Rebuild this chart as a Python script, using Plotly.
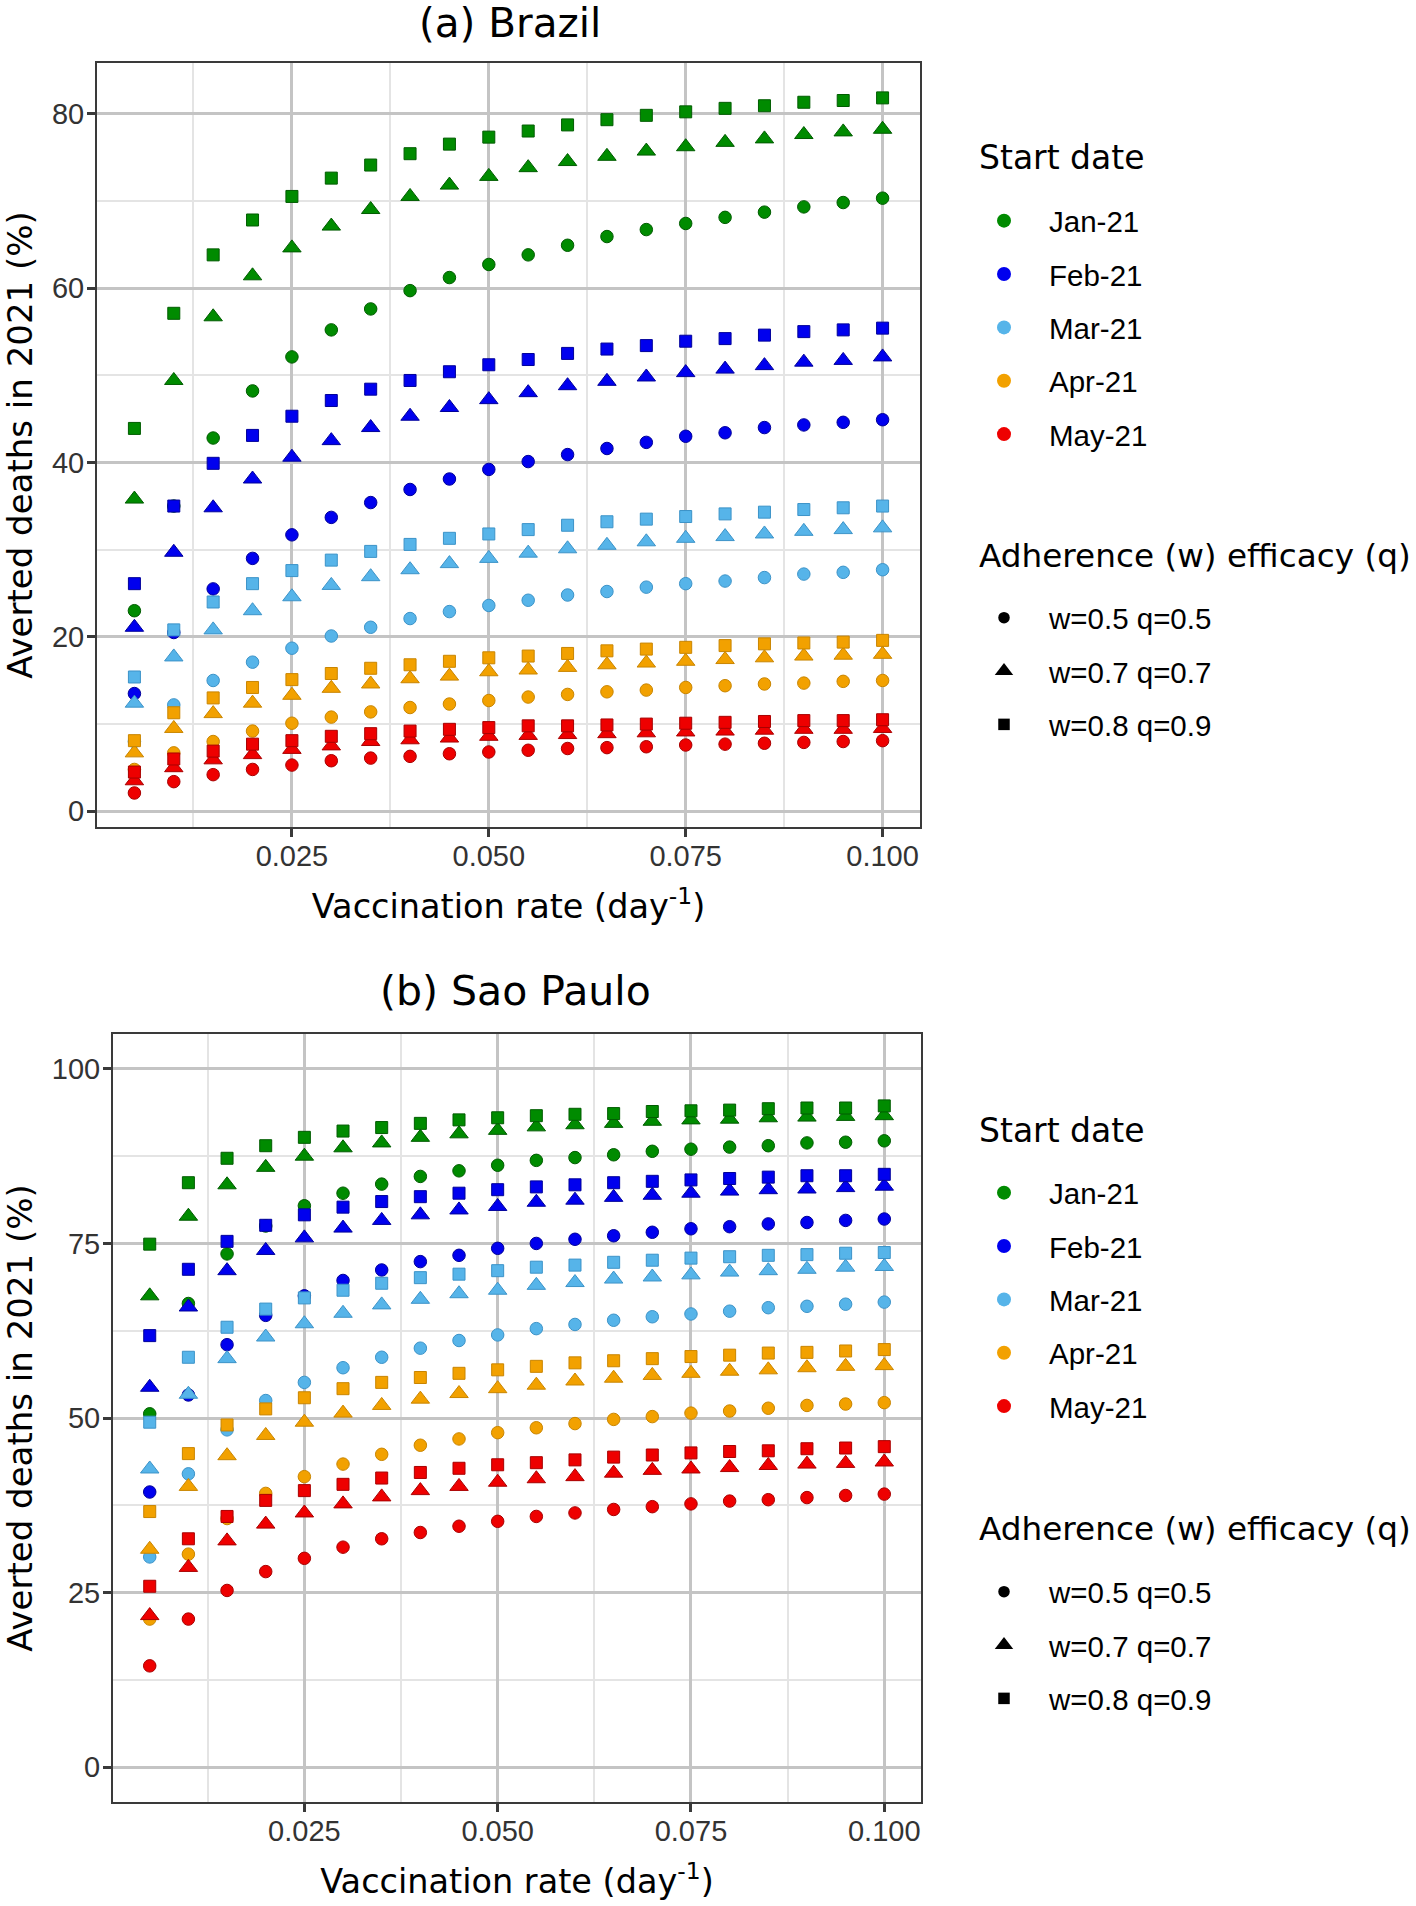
import plotly.graph_objects as go

# ---------------- data ----------------
RATE = [0.005, 0.010, 0.015, 0.020, 0.025, 0.030, 0.035, 0.040, 0.045, 0.050,
        0.055, 0.060, 0.065, 0.070, 0.075, 0.080, 0.085, 0.090, 0.095, 0.100]

DATES = ["Jan-21", "Feb-21", "Mar-21", "Apr-21", "May-21"]
SCENARIOS = ["w=0.5 q=0.5", "w=0.7 q=0.7", "w=0.8 q=0.9"]

X_TICKS = [0.025, 0.050, 0.075, 0.100]
X_TICK_TEXT = ["0.025", "0.050", "0.075", "0.100"]
X_MINOR = [0.0125, 0.0375, 0.0625, 0.0875]
BR_Y_TICKS = [0, 20, 40, 60, 80]
BR_Y_MINOR = [10, 30, 50, 70]
SP_Y_TICKS = [0, 25, 50, 75, 100]
SP_Y_MINOR = [12.5, 37.5, 62.5, 87.5]

# (a) Brazil  -- circle: w=0.5 q=0.5, triangle: w=0.7 q=0.7, square: w=0.8 q=0.9
BR_JAN_C = [23.0, 35.0, 42.8, 48.2, 52.1, 55.2, 57.6, 59.7, 61.2, 62.7, 63.8, 64.9, 65.9, 66.7, 67.4, 68.1, 68.7, 69.3, 69.8, 70.3]
BR_JAN_T = [35.8, 49.4, 56.7, 61.4, 64.6, 67.1, 69.0, 70.5, 71.8, 72.8, 73.8, 74.5, 75.1, 75.7, 76.2, 76.7, 77.1, 77.6, 77.9, 78.2]
BR_JAN_S = [43.9, 57.1, 63.8, 67.8, 70.5, 72.6, 74.1, 75.4, 76.5, 77.3, 78.0, 78.7, 79.3, 79.8, 80.2, 80.6, 80.9, 81.3, 81.5, 81.8]
BR_FEB_C = [13.5, 20.5, 25.5, 29.0, 31.7, 33.7, 35.4, 36.9, 38.1, 39.2, 40.1, 40.9, 41.6, 42.3, 43.0, 43.4, 44.0, 44.3, 44.6, 44.9]
BR_FEB_T = [21.1, 29.7, 34.8, 38.1, 40.6, 42.5, 44.0, 45.3, 46.3, 47.2, 48.0, 48.8, 49.3, 49.8, 50.3, 50.7, 51.1, 51.5, 51.7, 52.1]
BR_FEB_S = [26.1, 35.0, 39.9, 43.1, 45.3, 47.1, 48.4, 49.4, 50.4, 51.2, 51.8, 52.5, 53.0, 53.4, 53.9, 54.2, 54.6, 55.0, 55.2, 55.4]
BR_MAR_C = [8.0, 12.2, 15.0, 17.1, 18.7, 20.1, 21.1, 22.1, 22.9, 23.6, 24.2, 24.8, 25.2, 25.7, 26.1, 26.4, 26.8, 27.2, 27.4, 27.7]
BR_MAR_T = [12.4, 17.7, 20.8, 23.0, 24.6, 25.9, 26.9, 27.7, 28.4, 29.0, 29.6, 30.1, 30.5, 30.9, 31.3, 31.5, 31.8, 32.1, 32.3, 32.5]
BR_MAR_S = [15.4, 20.8, 24.0, 26.1, 27.6, 28.8, 29.8, 30.6, 31.3, 31.8, 32.3, 32.8, 33.2, 33.5, 33.8, 34.1, 34.3, 34.6, 34.8, 35.0]
BR_APR_C = [4.8, 6.7, 8.0, 9.2, 10.1, 10.8, 11.4, 11.9, 12.3, 12.7, 13.1, 13.4, 13.7, 13.9, 14.2, 14.4, 14.6, 14.7, 14.9, 15.0]
BR_APR_T = [6.7, 9.5, 11.2, 12.4, 13.3, 14.1, 14.6, 15.2, 15.5, 16.0, 16.2, 16.5, 16.8, 17.0, 17.2, 17.4, 17.6, 17.8, 17.9, 18.0]
BR_APR_S = [8.1, 11.3, 13.0, 14.2, 15.1, 15.8, 16.4, 16.8, 17.2, 17.6, 17.8, 18.1, 18.4, 18.6, 18.8, 19.0, 19.2, 19.3, 19.4, 19.6]
BR_MAY_C = [2.1, 3.4, 4.2, 4.8, 5.3, 5.8, 6.1, 6.3, 6.6, 6.8, 7.0, 7.2, 7.3, 7.4, 7.6, 7.7, 7.8, 7.9, 8.0, 8.1]
BR_MAY_T = [3.5, 5.0, 5.9, 6.5, 7.1, 7.5, 8.0, 8.2, 8.4, 8.6, 8.7, 8.8, 8.9, 9.0, 9.1, 9.2, 9.3, 9.4, 9.4, 9.5]
BR_MAY_S = [4.5, 6.0, 6.9, 7.7, 8.1, 8.6, 8.9, 9.2, 9.4, 9.6, 9.8, 9.8, 9.9, 10.0, 10.1, 10.2, 10.3, 10.4, 10.4, 10.5]

# (b) Sao Paulo
SP_JAN_C = [50.6, 66.4, 73.5, 77.5, 80.4, 82.2, 83.5, 84.6, 85.4, 86.2, 86.9, 87.3, 87.7, 88.2, 88.5, 88.8, 89.0, 89.4, 89.5, 89.7]
SP_JAN_T = [67.5, 78.9, 83.4, 85.9, 87.5, 88.7, 89.4, 90.2, 90.7, 91.2, 91.7, 92.0, 92.2, 92.5, 92.7, 92.8, 93.0, 93.1, 93.2, 93.3]
SP_JAN_S = [74.9, 83.7, 87.2, 89.0, 90.2, 91.1, 91.6, 92.2, 92.7, 93.0, 93.3, 93.5, 93.6, 93.9, 94.0, 94.1, 94.3, 94.4, 94.4, 94.7]
SP_FEB_C = [39.4, 53.3, 60.5, 64.7, 67.5, 69.7, 71.2, 72.4, 73.3, 74.3, 75.0, 75.6, 76.1, 76.6, 77.1, 77.4, 77.8, 78.0, 78.3, 78.5]
SP_FEB_T = [54.4, 65.9, 71.1, 74.0, 75.8, 77.2, 78.3, 79.1, 79.8, 80.3, 80.9, 81.2, 81.6, 81.9, 82.2, 82.5, 82.7, 82.8, 83.0, 83.2]
SP_FEB_S = [61.8, 71.3, 75.3, 77.6, 79.1, 80.2, 81.0, 81.7, 82.2, 82.7, 83.1, 83.4, 83.7, 83.9, 84.1, 84.3, 84.5, 84.7, 84.7, 84.9]
SP_MAR_C = [30.1, 42.0, 48.3, 52.5, 55.1, 57.2, 58.7, 60.0, 61.1, 61.9, 62.8, 63.4, 64.0, 64.5, 64.9, 65.3, 65.8, 66.0, 66.3, 66.6]
SP_MAR_T = [42.7, 53.4, 58.5, 61.6, 63.5, 65.0, 66.2, 67.0, 67.8, 68.3, 69.0, 69.4, 69.9, 70.2, 70.5, 70.9, 71.1, 71.3, 71.6, 71.7]
SP_MAR_S = [49.4, 58.7, 63.0, 65.6, 67.2, 68.3, 69.3, 70.1, 70.6, 71.1, 71.6, 71.9, 72.3, 72.6, 72.9, 73.1, 73.3, 73.4, 73.6, 73.7]
SP_APR_C = [21.2, 30.5, 35.6, 39.2, 41.6, 43.4, 44.8, 46.1, 47.0, 47.9, 48.6, 49.2, 49.8, 50.2, 50.7, 51.0, 51.4, 51.8, 52.0, 52.2]
SP_APR_T = [31.2, 40.2, 44.6, 47.5, 49.4, 50.7, 51.8, 52.7, 53.5, 54.2, 54.7, 55.3, 55.7, 56.1, 56.4, 56.7, 56.9, 57.2, 57.4, 57.5]
SP_APR_S = [36.6, 44.9, 49.0, 51.3, 52.9, 54.2, 55.1, 55.8, 56.4, 56.9, 57.4, 57.9, 58.2, 58.5, 58.8, 59.0, 59.3, 59.4, 59.6, 59.8]
SP_MAY_C = [14.5, 21.2, 25.3, 28.0, 29.9, 31.5, 32.7, 33.6, 34.5, 35.2, 35.9, 36.4, 36.9, 37.3, 37.7, 38.1, 38.3, 38.6, 38.9, 39.1]
SP_MAY_T = [21.7, 28.6, 32.4, 34.8, 36.4, 37.7, 38.7, 39.6, 40.2, 40.8, 41.3, 41.6, 42.1, 42.5, 42.7, 42.9, 43.2, 43.4, 43.5, 43.7]
SP_MAY_S = [25.9, 32.7, 35.9, 38.2, 39.6, 40.5, 41.4, 42.2, 42.8, 43.3, 43.6, 44.0, 44.4, 44.7, 45.0, 45.2, 45.3, 45.6, 45.7, 45.9]

BRAZIL = [[BR_JAN_C, BR_JAN_T, BR_JAN_S], [BR_FEB_C, BR_FEB_T, BR_FEB_S],
          [BR_MAR_C, BR_MAR_T, BR_MAR_S], [BR_APR_C, BR_APR_T, BR_APR_S],
          [BR_MAY_C, BR_MAY_T, BR_MAY_S]]
SAO_PAULO = [[SP_JAN_C, SP_JAN_T, SP_JAN_S], [SP_FEB_C, SP_FEB_T, SP_FEB_S],
             [SP_MAR_C, SP_MAR_T, SP_MAR_S], [SP_APR_C, SP_APR_T, SP_APR_S],
             [SP_MAY_C, SP_MAY_T, SP_MAY_S]]

# ---------------- style ----------------
W, H = 1416, 1906
FILL = ["#008B00", "#0000EE", "#56B4E9", "#F2A100", "#EE0000"]
EDGE = ["#005C00", "#00009A", "#3C93C8", "#C98500", "#A80000"]
SYMBOLS = ["circle", "triangle-up", "square"]
DATA_SIZE = [12.5, 16, 12]
LEG_SIZE = [11.5, 16, 11.5]

TXT = "Liberation Sans, Arial, sans-serif"
TTL = "DejaVu Sans, sans-serif"
GRID_MAJ = "#C4C4C4"
GRID_MIN = "#E4E4E4"
AXLINE = "#3A3A3A"


def px_x(p):
    return p / W


def px_y(p):
    return 1 - p / H


fig = go.Figure()

panels = [
    ("x", "y", BRAZIL, "legend", "legend2", "a"),
    ("x2", "y2", SAO_PAULO, "legend3", "legend4", "b"),
]

for xa, ya, series, leg_date, leg_scen, tag in panels:
    for di, date in enumerate(DATES):
        for si, scen in enumerate(SCENARIOS):
            fig.add_trace(go.Scatter(
                x=RATE, y=series[di][si], mode="markers", xaxis=xa, yaxis=ya,
                marker=dict(symbol=SYMBOLS[si], size=DATA_SIZE[si], color=FILL[di],
                            line=dict(color=EDGE[di], width=1)),
                showlegend=False, name=f"{date} {scen}",
                hovertemplate=f"{date}, {scen}<br>rate=%{{x}}<br>averted=%{{y}}%<extra></extra>"))
    # legend entries: start date
    for di, date in enumerate(DATES):
        fig.add_trace(go.Scatter(
            x=[None], y=[None], mode="markers", xaxis=xa, yaxis=ya, name=date,
            legend=leg_date, legendgroup=f"{tag}d{di}",
            marker=dict(symbol="circle", size=14, color=FILL[di]), showlegend=True))
    for si, scen in enumerate(SCENARIOS):
        fig.add_trace(go.Scatter(
            x=[None], y=[None], mode="markers", xaxis=xa, yaxis=ya, name=scen,
            legend=leg_scen, legendgroup=f"{tag}s{si}",
            marker=dict(symbol=SYMBOLS[si], size=LEG_SIZE[si], color="black"), showlegend=True))


def xaxis_cfg(domain, anchor):
    return dict(
        domain=domain, anchor=anchor, range=[0.00025, 0.10475], automargin=False,
        tickmode="array", tickvals=X_TICKS, ticktext=X_TICK_TEXT,
        ticks="outside", ticklen=8, tickwidth=2.5, tickcolor=AXLINE, ticklabelstandoff=-6,
        tickfont=dict(family=TXT, size=29, color="#333333"),
        showgrid=True, gridcolor=GRID_MAJ, gridwidth=2.5,
        minor=dict(tickvals=X_MINOR, showgrid=True, gridcolor=GRID_MIN, gridwidth=1.5, ticks=""),
        showline=True, mirror=True, linecolor=AXLINE, linewidth=2, zeroline=False,
        title=dict(text="Vaccination rate (day<sup>-1</sup>)",
                   font=dict(family=TTL, size=33.5, color="black"), standoff=24),
    )


def yaxis_cfg(domain, anchor, rng, ticks, minor):
    return dict(
        domain=domain, anchor=anchor, range=rng, automargin=False,
        tickmode="array", tickvals=ticks, ticktext=[str(t) for t in ticks],
        ticks="outside", ticklen=8, tickwidth=2.5, tickcolor=AXLINE, ticklabelstandoff=-3,
        tickfont=dict(family=TXT, size=29, color="#333333"),
        showgrid=True, gridcolor=GRID_MAJ, gridwidth=2.5,
        minor=dict(tickvals=minor, showgrid=True, gridcolor=GRID_MIN, gridwidth=1.5, ticks=""),
        showline=True, mirror=True, linecolor=AXLINE, linewidth=2, zeroline=False,
        title=dict(text="Averted deaths in 2021 (%)",
                   font=dict(family=TTL, size=34, color="black"), standoff=30),
    )


def legend_cfg(first_item_px):
    return dict(
        x=px_x(959), y=px_y(first_item_px - 25), xanchor="left", yanchor="top",
        font=dict(family=TXT, size=29.5, color="black"),
        bgcolor="rgba(0,0,0,0)", borderwidth=0,
        tracegroupgap=12, itemwidth=80, traceorder="grouped",
    )


def text_note(text, x_px, y_px, size, anchor="left"):
    return dict(text=text, x=px_x(x_px), y=px_y(y_px), xref="paper", yref="paper",
                showarrow=False, xanchor=anchor, yanchor="middle",
                font=dict(family=TTL, size=size, color="black"))


fig.update_layout(
    width=W, height=H, autosize=False,
    margin=dict(l=0, r=0, t=0, b=0, autoexpand=False),
    paper_bgcolor="white", plot_bgcolor="white",
    xaxis=xaxis_cfg([px_x(97), px_x(920)], "y"),
    yaxis=yaxis_cfg([px_y(827), px_y(63)], "x", [-1.8, 85.8], BR_Y_TICKS, BR_Y_MINOR),
    xaxis2=xaxis_cfg([px_x(113), px_x(921)], "y2"),
    yaxis2=yaxis_cfg([px_y(1802), px_y(1034)], "x2", [-5, 105], SP_Y_TICKS, SP_Y_MINOR),
    legend=legend_cfg(220),
    legend2=legend_cfg(617),
    legend3=legend_cfg(1192),
    legend4=legend_cfg(1591),
    annotations=[
        text_note("(a) Brazil", 510, 23, 40.5, "center"),
        text_note("(b) Sao Paulo", 515, 991, 41, "center"),
        text_note("Start date", 977, 158, 33),
        text_note("Adherence (w) efficacy (q)", 977, 556, 32.7),
        text_note("Start date", 977, 1130, 33),
        text_note("Adherence (w) efficacy (q)", 977, 1529, 32.7),
    ],
)

fig.write_html("out.html", config={"displayModeBar": False},
               post_script="document.body.style.margin='0';document.body.style.padding='0';")
